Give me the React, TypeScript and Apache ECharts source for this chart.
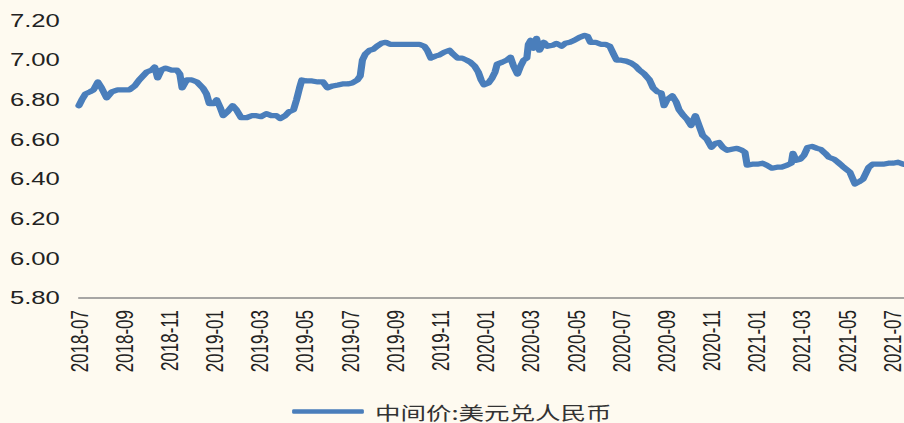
import React, { useEffect, useRef } from "react";
import * as echarts from "echarts";

const seriesName = "中间价:美元兑人民币";

const xTickLabels = [
  "2018-07", "2018-09", "2018-11", "2019-01", "2019-03", "2019-05", "2019-07",
  "2019-09", "2019-11", "2020-01", "2020-03", "2020-05", "2020-07", "2020-09",
  "2020-11", "2021-01", "2021-03", "2021-05", "2021-07",
];

const dates = [
  "2018-07-01", "2018-07-05", "2018-07-10", "2018-07-16", "2018-07-21", "2018-07-27",
  "2018-08-01", "2018-08-08", "2018-08-15", "2018-08-23", "2018-08-31",
  "2018-09-08", "2018-09-15", "2018-09-21",
  "2018-10-01", "2018-10-08", "2018-10-12", "2018-10-16", "2018-10-21", "2018-10-27",
  "2018-11-04", "2018-11-11", "2018-11-15", "2018-11-18", "2018-11-24",
  "2018-12-01", "2018-12-08", "2018-12-16", "2018-12-21", "2018-12-25", "2018-12-31",
  "2019-01-04", "2019-01-09", "2019-01-13", "2019-01-19", "2019-01-26", "2019-01-31",
  "2019-02-06", "2019-02-13", "2019-02-19", "2019-02-25",
  "2019-03-03", "2019-03-10", "2019-03-17", "2019-03-24", "2019-03-29",
  "2019-04-05", "2019-04-10", "2019-04-16", "2019-04-20", "2019-04-24", "2019-04-27",
  "2019-05-03", "2019-05-11", "2019-05-19", "2019-05-26",
  "2019-06-01", "2019-06-08", "2019-06-15", "2019-06-21", "2019-06-28",
  "2019-07-04", "2019-07-11", "2019-07-15", "2019-07-18", "2019-07-22", "2019-07-28",
  "2019-08-02", "2019-08-07", "2019-08-13", "2019-08-19", "2019-08-25",
  "2019-09-01", "2019-09-09", "2019-09-17", "2019-09-25",
  "2019-10-03", "2019-10-10", "2019-10-14", "2019-10-19", "2019-10-25", "2019-10-30",
  "2019-11-06", "2019-11-13", "2019-11-18", "2019-11-24", "2019-11-30",
  "2019-12-06", "2019-12-11", "2019-12-17", "2019-12-22", "2019-12-26", "2019-12-30",
  "2020-01-05", "2020-01-10", "2020-01-14", "2020-01-17", "2020-01-24", "2020-01-30",
  "2020-02-04", "2020-02-08", "2020-02-13", "2020-02-17", "2020-02-21", "2020-02-25", "2020-02-27",
  "2020-03-01", "2020-03-05", "2020-03-09", "2020-03-13", "2020-03-19", "2020-03-24", "2020-03-31",
  "2020-04-05", "2020-04-12", "2020-04-17", "2020-04-23", "2020-04-29",
  "2020-05-06", "2020-05-13", "2020-05-17", "2020-05-21", "2020-05-28",
  "2020-06-04", "2020-06-10", "2020-06-16", "2020-06-21", "2020-06-25",
  "2020-07-01", "2020-07-08", "2020-07-15", "2020-07-21", "2020-07-26",
  "2020-08-02", "2020-08-09", "2020-08-14", "2020-08-20", "2020-08-25", "2020-08-29",
  "2020-09-02", "2020-09-09", "2020-09-14", "2020-09-18", "2020-09-24", "2020-09-29",
  "2020-10-04", "2020-10-10", "2020-10-15", "2020-10-20", "2020-10-26",
  "2020-11-01", "2020-11-06", "2020-11-11", "2020-11-16", "2020-11-22", "2020-11-28",
  "2020-12-05", "2020-12-12", "2020-12-16", "2020-12-19", "2020-12-26",
  "2021-01-02", "2021-01-09", "2021-01-15", "2021-01-22", "2021-01-29",
  "2021-02-04", "2021-02-11", "2021-02-16", "2021-02-18", "2021-02-22", "2021-02-27",
  "2021-03-04", "2021-03-09", "2021-03-15", "2021-03-22", "2021-03-27",
  "2021-04-02", "2021-04-07", "2021-04-14", "2021-04-19", "2021-04-25", "2021-04-30",
  "2021-05-05", "2021-05-09", "2021-05-12", "2021-05-17", "2021-05-23", "2021-05-27", "2021-05-31",
  "2021-06-05", "2021-06-12", "2021-06-19", "2021-06-26",
  "2021-07-02", "2021-07-09", "2021-07-16",
];

const values = [
  6.77, 6.80, 6.83, 6.84, 6.85, 6.89,
  6.86, 6.81, 6.84, 6.85, 6.85,
  6.85, 6.87, 6.90,
  6.94, 6.95, 6.965, 6.91, 6.95, 6.96,
  6.95, 6.95, 6.93, 6.86, 6.90,
  6.90, 6.89, 6.86, 6.83, 6.78, 6.78,
  6.80, 6.76, 6.72, 6.74, 6.77, 6.75,
  6.71, 6.71, 6.72, 6.72,
  6.715, 6.73, 6.72, 6.72, 6.705,
  6.72, 6.74, 6.75, 6.80, 6.86, 6.90,
  6.895, 6.895, 6.89, 6.89,
  6.86, 6.87, 6.875, 6.88, 6.88,
  6.885, 6.90, 6.92, 7.00, 7.03, 7.05,
  7.055, 7.07, 7.085, 7.09, 7.08,
  7.08, 7.08, 7.08, 7.08,
  7.08, 7.07, 7.05, 7.01, 7.02, 7.025,
  7.04, 7.05, 7.03, 7.01, 7.01,
  7.00, 6.99, 6.97, 6.94, 6.90, 6.875,
  6.885, 6.91, 6.94, 6.98, 6.99, 7.00,
  7.015, 6.97, 6.93, 6.97, 7.00, 7.01, 7.08,
  7.10, 7.06, 7.11, 7.05, 7.09, 7.07, 7.075,
  7.085, 7.07, 7.085, 7.09, 7.10,
  7.115, 7.125, 7.12, 7.09, 7.09,
  7.08, 7.08, 7.07, 7.03, 7.00,
  7.00, 6.995, 6.985, 6.97, 6.95,
  6.93, 6.90, 6.86, 6.84, 6.835, 6.77,
  6.80, 6.82, 6.79, 6.75, 6.72, 6.70,
  6.67, 6.72, 6.67, 6.62, 6.60,
  6.56, 6.58, 6.585, 6.56, 6.545, 6.55,
  6.555, 6.545, 6.535, 6.47, 6.475,
  6.475, 6.48, 6.47, 6.455, 6.46,
  6.46, 6.47, 6.48, 6.53, 6.495, 6.50,
  6.52, 6.56, 6.565, 6.555, 6.55,
  6.53, 6.51, 6.50, 6.485, 6.465, 6.45,
  6.435, 6.40, 6.375, 6.385, 6.40, 6.43, 6.46,
  6.475, 6.475, 6.475, 6.48,
  6.48, 6.485, 6.475,
];

const START_YEAR = 2018;
const START_MONTH = 7;

function monthOffset(s: string): number {
  const [y, mo, d] = s.split("-").map(Number);
  const dim = new Date(y, mo, 0).getDate();
  return (y - START_YEAR) * 12 + (mo - START_MONTH) + (d - 1) / dim;
}

const STRETCH = 1.38;
const W = 904 / STRETCH;
const H = 423;
const BG = "#fefaf0";

export default function App() {
  const ref = useRef<HTMLDivElement>(null);

  useEffect(() => {
    if (!ref.current) return;
    const chart = echarts.init(ref.current, null, { renderer: "svg" });
    const data = dates.map((d, i) => [monthOffset(d), values[i]]);
    chart.setOption({
      animation: false,
      backgroundColor: BG,
      grid: { left: 57.2, right: 0, top: 20.5, bottom: 125, containLabel: false },
      xAxis: {
        type: "value",
        min: 0,
        max: 36.5,
        interval: 2,
        axisLine: { show: true, lineStyle: { color: "#8a8a8a", width: 1.5 } },
        axisTick: { show: false },
        splitLine: { show: false },
        axisLabel: {
          rotate: 90,
          margin: 12,
          color: "#222",
          fontFamily: "Liberation Sans",
          fontSize: 17,
          showMaxLabel: true,
          showMinLabel: true,
          formatter: (v: number) => {
            const r = Math.round(v);
            if (Math.abs(v - r) > 1e-6 || r % 2 !== 0) return "";
            return xTickLabels[r / 2] ?? "";
          },
        },
      },
      yAxis: {
        type: "value",
        min: 5.8,
        max: 7.2,
        interval: 0.2,
        axisLine: { show: false },
        axisTick: { show: false },
        splitLine: { show: false },
        axisLabel: {
          align: "left",
          margin: 50,
          color: "#222",
          fontFamily: "Liberation Sans",
          fontSize: 18.6,
          formatter: (v: number) => v.toFixed(2),
        },
      },
      legend: {
        show: true,
        left: "center",
        top: 402,
        padding: 0,
        icon: "roundRect",
        itemWidth: 52,
        itemHeight: 4.5,
        textStyle: {
          color: "#333",
          fontFamily: "Noto Sans CJK SC",
          fontSize: 18.5,
          lineHeight: 19,
          height: 19,
          padding: [0, 0, 0, 3],
        },
        data: [seriesName],
      },
      series: [
        {
          name: seriesName,
          type: "line",
          data,
          showSymbol: false,
          symbol: "none",
          clip: false,
          itemStyle: { color: "#4a7ebb" },
          lineStyle: { color: "#4a7ebb", width: 5.2, cap: "round", join: "round" },
        },
      ],
    });
    return () => chart.dispose();
  }, []);

  return (
    <div
      style={{
        position: "fixed",
        left: 0,
        top: 0,
        width: 904,
        height: 423,
        background: BG,
        overflow: "hidden",
      }}
    >
      <div
        ref={ref}
        style={{
          position: "absolute",
          left: 0,
          top: 0,
          width: W,
          height: H,
          transform: `scaleX(${STRETCH})`,
          transformOrigin: "0 0",
        }}
      />
    </div>
  );
}
